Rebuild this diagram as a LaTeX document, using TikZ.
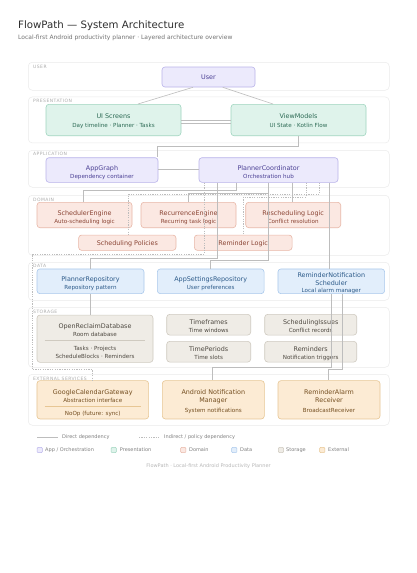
\documentclass[tikz,border=0pt]{standalone}
\usepackage{fontspec}
\setmainfont{DejaVu Sans}
\newfontfamily\spacedfont[LetterSpace=10]{DejaVu Sans}
\definecolor{appF}{HTML}{ECEAFC}
\definecolor{appB}{HTML}{B9B3EA}
\definecolor{appT}{HTML}{4A3F94}
\definecolor{preF}{HTML}{DFF3EB}
\definecolor{preB}{HTML}{9FD5BF}
\definecolor{preT}{HTML}{2C6A54}
\definecolor{domF}{HTML}{FBE8E2}
\definecolor{domB}{HTML}{E8B7A7}
\definecolor{domT}{HTML}{8A4434}
\definecolor{datF}{HTML}{E2EEFB}
\definecolor{datB}{HTML}{AAC9EC}
\definecolor{datT}{HTML}{2C5A89}
\definecolor{stoF}{HTML}{EFECE6}
\definecolor{stoB}{HTML}{CFCAC0}
\definecolor{stoT}{HTML}{4E4941}
\definecolor{extF}{HTML}{FCEBD4}
\definecolor{extB}{HTML}{E7C694}
\definecolor{extT}{HTML}{744E20}
\definecolor{panB}{HTML}{EBEBEB}
\definecolor{connC}{HTML}{BDBDBD}
\definecolor{headC}{HTML}{2E2E2E}
\begin{document}
\begin{tikzpicture}[x=1pt,y=-1pt,
  panel/.style={draw=panB, fill=white, rounded corners=4pt, line width=0.5pt, inner sep=0pt, anchor=north west, minimum width=361pt},
  plabel/.style={inner sep=0pt, anchor=base west, text=black!32, font=\spacedfont\fontsize{4.5}{5}\selectfont},
  box/.style={rounded corners=3pt, line width=0.6pt, inner sep=0pt},
  appbox/.style={box, fill=appF, draw=appB},
  prebox/.style={box, fill=preF, draw=preB},
  dombox/.style={box, fill=domF, draw=domB},
  datbox/.style={box, fill=datF, draw=datB},
  stobox/.style={box, fill=stoF, draw=stoB},
  extbox/.style={box, fill=extF, draw=extB},
  ttl/.style={inner sep=0pt, font=\fontsize{6.4}{7}\selectfont, text height=4.6pt, text depth=0pt},
  sub/.style={inner sep=0pt, font=\fontsize{5.6}{6}\selectfont, text height=4pt, text depth=0pt},
  conn/.style={draw=connC, line width=0.6pt},
  indconn/.style={conn, dash pattern=on 1.2pt off 1.2pt},
  legtext/.style={inner sep=0pt, anchor=west, text=black!50, font=\fontsize{5}{6}\selectfont, text height=3.6pt, text depth=0pt},
  legsq/.style={rounded corners=1pt, line width=0.5pt, minimum size=5.3pt, inner sep=0pt},
]
\useasboundingbox (0,0) rectangle (417,573);
\fill[white] (0,0) rectangle (417,573);

% title
\node[inner sep=0pt, anchor=base west, text=headC, font=\fontsize{10.2}{12}\selectfont] (title) at (18,28.3) {FlowPath — System Architecture};
\node[inner sep=0pt, anchor=base west, text=black!55, font=\fontsize{6}{7}\selectfont] (subtitle) at (18,39.3) {Local-first Android productivity planner · Layered architecture overview};

% panels
\node[panel, minimum height=28pt] (pUser) at (28,62) {};
\node[panel, minimum height=46pt] (pPres) at (28,96.7) {};
\node[panel, minimum height=37pt] (pApp) at (28,150) {};
\node[panel, minimum height=60pt] (pDom) at (28,195) {};
\node[panel, minimum height=38pt] (pData) at (28,262) {};
\node[panel, minimum height=60pt] (pStor) at (28,307) {};
\node[panel, minimum height=51pt] (pExt) at (28,374) {};
\node[plabel] (lUser) at (33,68) {USER};
\node[plabel] (lPres) at (33,102.7) {PRESENTATION};
\node[plabel] (lApp) at (33,155.7) {APPLICATION};
\node[plabel] (lDom) at (33,201) {DOMAIN};
\node[plabel] (lData) at (33,267.7) {DATA};
\node[plabel] (lStor) at (33,313.3) {STORAGE};
\node[plabel] (lExt) at (33,380) {EXTERNAL SERVICES};

% boxes
\node[appbox, minimum width=93pt, minimum height=20pt] (user) at (208.5,77) {};
\node[prebox, minimum width=135pt, minimum height=31.4pt] (ui) at (113.5,120) {};
\node[prebox, minimum width=135pt, minimum height=31.4pt] (vm) at (298.5,120) {};
\node[appbox, minimum width=112pt, minimum height=24.6pt] (ag) at (102,170) {};
\node[appbox, minimum width=139pt, minimum height=24.6pt] (pc) at (268.5,170) {};
\node[dombox, minimum width=95pt, minimum height=25.4pt] (sched) at (84.5,215) {};
\node[dombox, minimum width=95pt, minimum height=25.4pt] (recur) at (188.5,215) {};
\node[dombox, minimum width=95pt, minimum height=25.4pt] (resched) at (293.2,215) {};
\node[dombox, minimum width=97.3pt, minimum height=15.3pt] (policies) at (127.3,242.7) {};
\node[dombox, minimum width=97.7pt, minimum height=15.3pt] (remlogic) at (243.2,242.7) {};
\node[datbox, minimum width=107pt, minimum height=24.7pt] (prepo) at (90.5,281.3) {};
\node[datbox, minimum width=106.7pt, minimum height=24.7pt] (settings) at (210.7,281.3) {};
\node[datbox, minimum width=106.7pt, minimum height=24.7pt] (rns) at (331.3,281.3) {};
\node[stobox, minimum width=116pt, minimum height=47.3pt] (db) at (95,338.7) {};
\node[stobox, minimum width=84pt, minimum height=20.7pt] (tf) at (208.7,324.7) {};
\node[stobox, minimum width=92pt, minimum height=20.7pt] (issues) at (310.7,324.7) {};
\node[stobox, minimum width=84pt, minimum height=20.7pt] (tp) at (208.7,351.7) {};
\node[stobox, minimum width=92pt, minimum height=20.7pt] (rem) at (310.7,351.7) {};
\node[extbox, minimum width=111.7pt, minimum height=38.3pt] (gcal) at (92.8,399.8) {};
\node[extbox, minimum width=102pt, minimum height=38.3pt] (anm) at (213.3,399.8) {};
\node[extbox, minimum width=102pt, minimum height=38.3pt] (rar) at (329,399.8) {};

% texts
\node[ttl, text=appT] (userT) at (208.5,77) {User};
\node[ttl, text=preT] (uiT) at (113.5,115.7) {UI Screens};
\node[sub, text=preT] (uiS) at (113.5,125.7) {Day timeline · Planner · Tasks};
\node[ttl, text=preT] (vmT) at (298.5,115.7) {ViewModels};
\node[sub, text=preT] (vmS) at (298.5,125.7) {UI State · Kotlin Flow};
\node[ttl, text=appT] (agT) at (102,167.7) {AppGraph};
\node[sub, text=appT] (agS) at (102,176) {Dependency container};
\node[ttl, text=appT] (pcT) at (268.5,167.7) {PlannerCoordinator};
\node[sub, text=appT] (pcS) at (268.5,176) {Orchestration hub};
\node[ttl, text=domT] (schedT) at (84.5,212.7) {SchedulerEngine};
\node[sub, text=domT] (schedS) at (84.5,221) {Auto-scheduling logic};
\node[ttl, text=domT] (recurT) at (188.5,212.7) {RecurrenceEngine};
\node[sub, text=domT] (recurS) at (188.5,221) {Recurring task logic};
\node[ttl, text=domT] (reschedT) at (293.2,212.7) {Rescheduling Logic};
\node[sub, text=domT] (reschedS) at (293.2,221) {Conflict resolution};
\node[ttl, text=domT] (policiesT) at (127.3,242.7) {Scheduling Policies};
\node[ttl, text=domT] (remlogicT) at (243.2,242.7) {Reminder Logic};
\node[ttl, text=datT] (prepoT) at (90.5,279) {PlannerRepository};
\node[sub, text=datT] (prepoS) at (90.5,287.3) {Repository pattern};
\node[ttl, text=datT] (settingsT) at (210.7,279) {AppSettingsRepository};
\node[sub, text=datT] (settingsS) at (210.7,287.3) {User preferences};
\node[ttl, text=datT] (rnsT) at (331.3,275.3) {ReminderNotification};
\node[ttl, text=datT] (rnsT2) at (331.3,283.3) {Scheduler};
\node[sub, text=datT] (rnsS) at (331.3,290.7) {Local alarm manager};
\node[ttl, text=stoT] (dbT) at (95,326) {OpenReclaimDatabase};
\node[sub, text=stoT] (dbS) at (95,334.3) {Room database};
\draw[stoB, line width=0.5pt] ([xshift=8pt]db.west |- 0,340.5) -- ([xshift=-8pt]db.east |- 0,340.5);
\node[sub, text=stoT] (dbS2) at (95,348.3) {Tasks · Projects};
\node[sub, text=stoT] (dbS3) at (95,356.7) {ScheduleBlocks · Reminders};
\node[ttl, text=stoT] (tfT) at (208.7,322.3) {Timeframes};
\node[sub, text=stoT] (tfS) at (208.7,330.7) {Time windows};
\node[ttl, text=stoT] (issuesT) at (310.7,322.3) {SchedulingIssues};
\node[sub, text=stoT] (issuesS) at (310.7,330.7) {Conflict records};
\node[ttl, text=stoT] (tpT) at (208.7,349) {TimePeriods};
\node[sub, text=stoT] (tpS) at (208.7,357.3) {Time slots};
\node[ttl, text=stoT] (remT) at (310.7,349) {Reminders};
\node[sub, text=stoT] (remS) at (310.7,357.3) {Notification triggers};
\node[ttl, text=extT] (gcalT) at (92.8,392) {GoogleCalendarGateway};
\node[sub, text=extT] (gcalS) at (92.8,400.7) {Abstraction interface};
\draw[extB, line width=0.5pt] ([xshift=8pt]gcal.west |- 0,406) -- ([xshift=-8pt]gcal.east |- 0,406);
\node[sub, text=extT] (gcalS2) at (92.8,413.3) {NoOp (future: sync)};
\node[ttl, text=extT] (anmT) at (213.3,392) {Android Notification};
\node[ttl, text=extT] (anmT2) at (213.3,400.3) {Manager};
\node[sub, text=extT] (anmS) at (213.3,410) {System notifications};
\node[ttl, text=extT] (rarT) at (329,392) {ReminderAlarm};
\node[ttl, text=extT] (rarT2) at (329,400.3) {Receiver};
\node[sub, text=extT] (rarS) at (329,410) {BroadcastReceiver};

% connectors
\draw[conn] (193,0 |- user.south) -- (138,0 |- ui.north);
\draw[conn] (222.7,0 |- user.south) -- (273,0 |- vm.north);
\draw[conn] (ui.east |- 0,120.7) -- (vm.west |- 0,120.7);
\draw[conn] (ui.east |- 0,123.7) -- (vm.west |- 0,123.7);
\draw[conn] (298.7,0 |- vm.south) |- (157.3,146) -- (157.3,0 |- ag.north);
\draw[conn] (ag.east |- 0,169.3) -- (pc.west |- 0,169.3);
\draw[conn] (236.3,0 |- pc.south) |- (83.3,190) -- (83.3,0 |- sched.north);
\draw[conn] (268.7,0 |- pc.south) |- (188.3,193.3) -- (188.3,0 |- recur.north);
\draw[conn] (292.3,0 |- pc.south) -- (292.3,0 |- resched.north);
\draw[indconn] (319.3,0 |- pc.south) |- (128.3,194.5) -- (128.3,0 |- policies.north);
\draw[indconn] (306,0 |- pc.south) |- (243.5,196.8) -- (243.5,0 |- remlogic.north);
\draw[conn] (217.3,0 |- pc.south) |- (90.5,258.5) -- (90.5,0 |- prepo.north);
\draw[conn] (268.7,0 |- pc.south) |- (210.7,260.5) -- (210.7,0 |- settings.north);
\draw[conn] (329.5,0 |- pc.south) -- (329.5,0 |- rns.north);
\draw[indconn] (204,0 |- pc.south) |- (32,254.5) |- (92.3,369.5) -- (92.3,0 |- gcal.north);
\draw[conn] (90.5,0 |- prepo.south) -- (90.5,0 |- db.north);
\draw[conn] (331.7,0 |- rns.south) |- (212.3,367.3) -- (212.3,0 |- anm.north);
\draw[conn] (342.7,0 |- rns.south) |- (328.3,369.3) -- (328.3,0 |- rar.north);

% legend
\coordinate (ls1) at (37,437);
\coordinate (ls2) at (58,437);
\draw[conn] (ls1) -- (ls2);
\node[legtext] (lgDirect) at (62,437) {Direct dependency};
\coordinate (ld1) at (139,437);
\coordinate (ld2) at (160,437);
\draw[indconn] (ld1) -- (ld2);
\node[legtext] (lgInd) at (164,437) {Indirect / policy dependency};
\node[legsq, fill=appF, draw=appB] (sqApp) at (39.7,450) {};
\node[legtext] (tApp) at (45,450) {App / Orchestration};
\node[legsq, fill=preF, draw=preB] (sqPre) at (113.7,450) {};
\node[legtext] (tPre) at (119.7,450) {Presentation};
\node[legsq, fill=domF, draw=domB] (sqDom) at (183.3,450) {};
\node[legtext] (tDom) at (189,450) {Domain};
\node[legsq, fill=datF, draw=datB] (sqDat) at (234.3,450) {};
\node[legtext] (tDat) at (240,450) {Data};
\node[legsq, fill=stoF, draw=stoB] (sqSto) at (281,450) {};
\node[legtext] (tSto) at (286,450) {Storage};
\node[legsq, fill=extF, draw=extB] (sqExt) at (322.3,450) {};
\node[legtext] (tExt) at (328,450) {External};

\node[inner sep=0pt, text=black!28, font=\fontsize{5}{6}\selectfont] (footer) at (208.5,466.3) {FlowPath · Local-first Android Productivity Planner};
\end{tikzpicture}
\end{document}
